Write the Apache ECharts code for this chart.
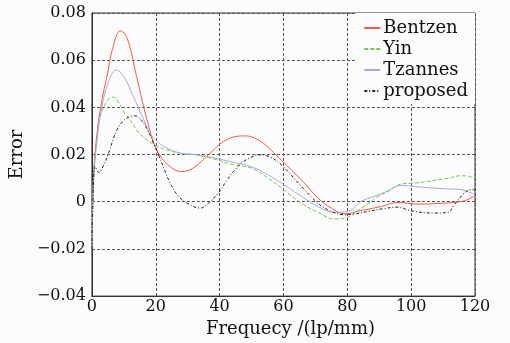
<!DOCTYPE html>
<html>
<head>
<meta charset="utf-8">
<script src="https://cdn.jsdelivr.net/npm/echarts@6/dist/echarts.min.js"></script>
<style>
  html, body { margin: 0; padding: 0; background: #fcfcfc; }
  #chart { width: 510px; height: 343px; }
</style>
</head>
<body>
<div id="chart"></div>
<script>
// 频率 (lp/mm) 与误差，逐条曲线读取
var bentzenX = [0, 0.5, 1.6, 3.1, 4.7, 6.5, 8.9, 11, 14, 17.2, 20.3, 24, 28, 32, 36.5, 42, 47.9, 50, 53, 56, 59.4, 65.6, 70.8, 75, 79.2, 84.4, 90.6, 95.8, 102, 110.4, 115.6, 117.5, 120];
var bentzenY = [-0.02, 0.0107, 0.029, 0.043, 0.053, 0.065, 0.0724, 0.0695, 0.053, 0.035, 0.022, 0.0155, 0.0128, 0.0145, 0.0199, 0.0262, 0.0279, 0.0275, 0.0255, 0.022, 0.0175, 0.0093, 0.0016, -0.0027, -0.0051, -0.0037, -0.002, -0.0003, -0.001, -0.0006, 0.0001, 0.0008, 0.0026];

var yinX = [0, 0.5, 1.4, 2.6, 4, 5.3, 6.6, 8.5, 10, 12, 14.5, 17.2, 20, 23.4, 28, 32, 38.5, 44, 50, 55, 59.4, 65.6, 70.8, 76, 80.2, 84.4, 86.9, 89.6, 93, 96.9, 100, 105.2, 111.5, 115.6, 118.1, 120];
var yinY = [-0.02, 0.0093, 0.025, 0.036, 0.041, 0.0435, 0.0443, 0.042, 0.038, 0.0347, 0.0295, 0.0262, 0.0238, 0.022, 0.0205, 0.02, 0.018, 0.0158, 0.0142, 0.0102, 0.0058, -0.0006, -0.0045, -0.0073, -0.0065, -0.0027, -0.0005, 0.0023, 0.0045, 0.0075, 0.0078, 0.0086, 0.01, 0.011, 0.0108, 0.0093];

var tzannesX = [0, 0.5, 1.6, 3.1, 5, 7.6, 10, 13, 15.5, 18.2, 20.5, 23.4, 28, 32.8, 38.5, 44, 50, 55, 59.4, 65.6, 70.8, 76, 80.2, 84.4, 88.5, 92, 96.9, 100, 105, 110.4, 115.6, 118.8, 120];
var tzannesY = [-0.02, 0.008, 0.026, 0.04, 0.05, 0.0558, 0.053, 0.0445, 0.037, 0.029, 0.0255, 0.0228, 0.0205, 0.0199, 0.0185, 0.0168, 0.0148, 0.0115, 0.0079, 0.0023, -0.002, -0.0045, -0.0041, 0.0002, 0.0023, 0.0042, 0.0069, 0.0066, 0.006, 0.0055, 0.0051, 0.0037, 0.0027];

var proposedX = [0, 0.5, 1, 2.1, 3.5, 5.2, 7.8, 10, 12, 13.6, 15.5, 17.2, 19.3, 22, 24.5, 27, 29.7, 33.9, 36.5, 39.6, 42, 44.8, 48, 53, 56, 59.4, 65.6, 70.8, 75, 79.2, 82.3, 86.5, 91, 95.8, 100, 107.3, 111.5, 113.5, 116.7, 118.8, 120];
var proposedY = [-0.02, 0.008, 0.015, 0.0124, 0.015, 0.0206, 0.0304, 0.0345, 0.0361, 0.0364, 0.0345, 0.031, 0.0248, 0.016, 0.0079, 0.0025, -0.0005, -0.0027, -0.0006, 0.0037, 0.0085, 0.0135, 0.0175, 0.0199, 0.0188, 0.0156, 0.0065, -0.0006, -0.0041, -0.0055, -0.0052, -0.0041, -0.003, -0.0023, -0.0039, -0.0048, -0.0045, -0.0013, 0.0037, 0.0051, 0.0051];

var seriesNames = ['Bentzen', 'Yin', 'Tzannes', 'proposed'];

var font = 'DejaVu Serif';

function pairs(xs, ys) {
  var out = [];
  for (var i = 0; i < xs.length; i++) out.push([xs[i], ys[i]]);
  return out;
}

function line(name, xs, ys, color, type) {
  return {
    name: name,
    type: 'line',
    data: pairs(xs, ys),
    smooth: 0.4,
    symbol: 'none',
    lineStyle: { color: color, width: 1, type: type },
    itemStyle: { color: color }
  };
}

var chart = echarts.init(document.getElementById('chart'), null, { renderer: 'canvas' });

chart.setOption({
  backgroundColor: '#fcfcfc',
  animation: false,
  grid: {
    left: 90, right: 35, top: 13, bottom: 45,
    show: true, borderColor: '#333', borderWidth: 1
  },
  legend: {
    data: seriesNames,
    orient: 'vertical',
    right: 35,
    top: 13,
    padding: [6, 7, 4, 8],
    itemGap: 3,
    itemWidth: 16,
    itemHeight: 10,
    backgroundColor: '#fcfcfc',
    itemStyle: { opacity: 0 },
    textStyle: { fontFamily: font, fontSize: 18, color: '#111', padding: [0, 0, 0, -2] }
  },
  xAxis: {
    type: 'value',
    min: 0, max: 120, interval: 20,
    name: 'Frequecy /(lp/mm)',
    nameLocation: 'middle',
    nameGap: 22,
    nameTextStyle: { fontFamily: font, fontSize: 18, color: '#111', padding: [0, 0, 0, 14] },
    axisLine: { onZero: false, lineStyle: { color: '#333' } },
    axisTick: { show: false },
    axisLabel: { fontFamily: font, fontSize: 16, color: '#111', margin: 3 },
    splitLine: { lineStyle: { color: '#555', type: [3, 2] } }
  },
  yAxis: {
    type: 'value',
    min: -0.04, max: 0.08, interval: 0.02,
    name: 'Error',
    nameLocation: 'middle',
    nameGap: 56,
    nameTextStyle: { fontFamily: font, fontSize: 18, color: '#111' },
    axisLine: { lineStyle: { color: '#333' } },
    axisTick: { show: false },
    axisLabel: {
      fontFamily: font, fontSize: 16, color: '#111', margin: 6,
      formatter: function (v) {
        if (Math.abs(v) < 1e-9) return '0';
        var s = Math.abs(v).toFixed(2);
        return v < 0 ? '\u2212' + s : s;
      }
    },
    splitLine: { lineStyle: { color: '#555', type: [3, 2] } }
  },
  series: [
    line('Bentzen', bentzenX, bentzenY, '#f05a48', 'solid'),
    line('Yin', yinX, yinY, '#74c65a', [4, 2]),
    line('Tzannes', tzannesX, tzannesY, '#a8a8dc', 'solid'),
    line('proposed', proposedX, proposedY, '#222222', [3, 2, 1, 2])
  ]
});
</script>
</body>
</html>
